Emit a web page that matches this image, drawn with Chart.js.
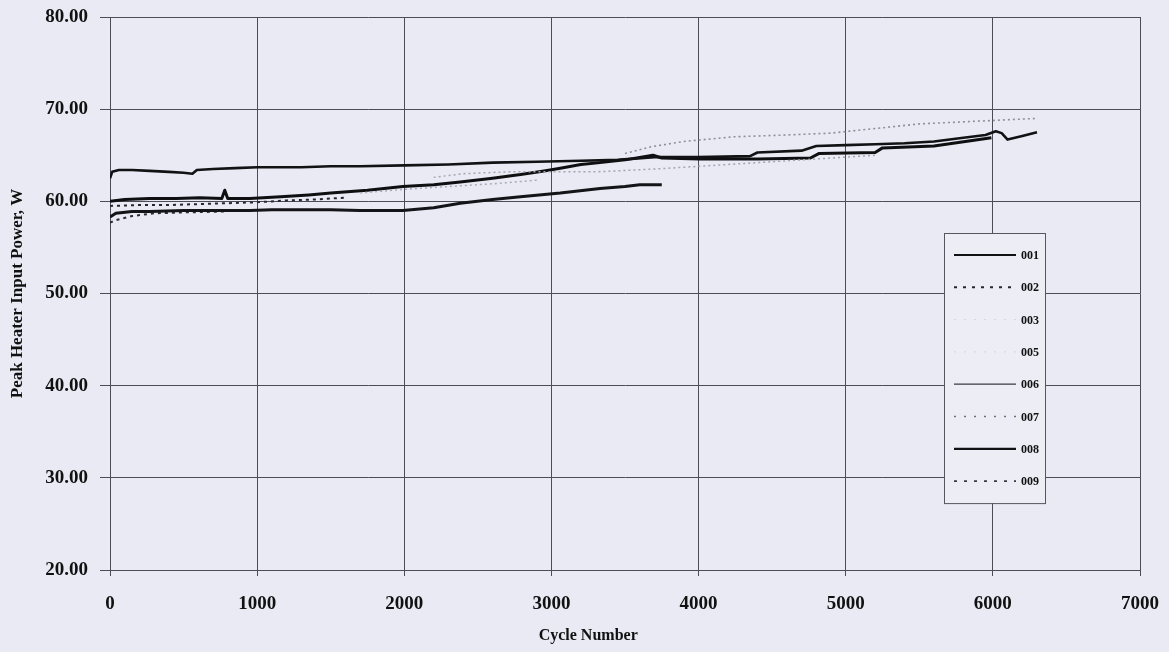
<!DOCTYPE html>
<html>
<head>
<meta charset="utf-8">
<title>Peak Heater Input Power vs Cycle Number</title>
<script src="https://cdn.jsdelivr.net/npm/chart.js@4.4.1/dist/chart.umd.min.js"></script>
<style>
  html, body { margin: 0; padding: 0; background: #e9eaf3; }
  #wrap { width: 1169px; height: 652px; }
</style>
</head>
<body>
<div id="wrap"><canvas id="powerChart" width="1169" height="652"></canvas></div>
<script>
// Axis ticks
const xTicks = [0, 1000, 2000, 3000, 4000, 5000, 6000, 7000];
const yTicks = [20, 30, 40, 50, 60, 70, 80];

// Heater series (cycle number / peak power in W)
const cycles001 = [0, 15, 60, 150, 270, 400, 500, 560, 590, 700, 850, 1000, 1150, 1300, 1500, 1700, 2000, 2300, 2600, 2900, 3200, 3450, 3700, 4000, 4350, 4400, 4700, 4800, 5000, 5200, 5400, 5600, 5800, 5950, 6020, 6060, 6100, 6200, 6300];
const power001  = [62.5, 63.2, 63.4, 63.4, 63.3, 63.2, 63.1, 63.0, 63.4, 63.5, 63.6, 63.7, 63.7, 63.7, 63.8, 63.8, 63.9, 64.0, 64.2, 64.3, 64.4, 64.5, 64.8, 64.8, 64.9, 65.3, 65.5, 66.0, 66.1, 66.2, 66.3, 66.5, 66.9, 67.2, 67.6, 67.4, 66.7, 67.1, 67.5];

const cycles002 = [0, 200, 400, 600, 800, 1000, 1200, 1400, 1600];
const power002  = [59.5, 59.6, 59.6, 59.7, 59.8, 59.9, 60.1, 60.2, 60.4];

const cycles003 = [1700, 2000, 2300, 2600, 2900];
const power003  = [60.9, 61.3, 61.6, 61.9, 62.3];

const cycles005 = [2200, 2400, 2700, 3000, 3300, 3700, 4100, 4500, 4900, 5200];
const power005  = [62.6, 63.0, 63.2, 63.2, 63.2, 63.5, 63.9, 64.3, 64.7, 65.0];

const cycles006 = [0, 40, 150, 270, 500, 700, 950, 1100, 1290, 1500, 1700, 1990, 2200, 2380, 2600, 2790, 3060, 3330, 3500, 3600, 3750];
const power006  = [58.3, 58.7, 58.9, 58.9, 59.0, 59.0, 59.0, 59.1, 59.1, 59.1, 59.0, 59.0, 59.3, 59.8, 60.2, 60.5, 60.9, 61.4, 61.6, 61.8, 61.8];

const cycles007 = [3500, 3670, 3900, 4240, 4600, 4900, 5200, 5500, 5900, 6300];
const power007  = [65.2, 65.9, 66.5, 67.0, 67.2, 67.4, 67.9, 68.4, 68.7, 69.0];

const cycles008 = [0, 100, 270, 450, 610, 760, 780, 800, 950, 1160, 1350, 1500, 1750, 1990, 2200, 2380, 2600, 2790, 2950, 3060, 3200, 3330, 3500, 3690, 3750, 4010, 4400, 4760, 4820, 5200, 5250, 5600, 5990];
const power008  = [60.0, 60.2, 60.3, 60.3, 60.4, 60.3, 61.2, 60.3, 60.3, 60.5, 60.7, 60.9, 61.2, 61.6, 61.8, 62.1, 62.5, 62.9, 63.3, 63.6, 64.0, 64.2, 64.5, 65.0, 64.7, 64.6, 64.6, 64.7, 65.2, 65.3, 65.8, 66.0, 66.9];

const cycles009 = [0, 50, 150, 300, 500, 800];
const power009  = [57.7, 58.0, 58.4, 58.7, 58.8, 58.9];

function pairs(xs, ys) {
    return xs.map((x, i) => ({ x: x, y: ys[i] }));
}

function series(label, xs, ys, color, width, dash) {
    return {
        label: label,
        data: pairs(xs, ys),
        showLine: true,
        borderColor: color,
        borderWidth: width,
        borderDash: dash,
        pointRadius: 0,
        tension: 0,
        borderJoinStyle: 'round'
    };
}

const datasets = [
    series('001', cycles001, power001, '#121214', 2.6, []),
    series('002', cycles002, power002, '#26262c', 2, [3, 4]),
    series('003', cycles003, power003, '#a9abb6', 1.5, [2, 3]),
    series('005', cycles005, power005, '#a2a4b0', 1.5, [2, 3]),
    series('006', cycles006, power006, '#141418', 3, []),
    series('007', cycles007, power007, '#8d8f9a', 1.6, [2, 3]),
    series('008', cycles008, power008, '#0f0f12', 3, []),
    series('009', cycles009, power009, '#2c2c33', 2, [3, 4])
];

// legend swatch styles (the faint ones print very light)
const legendColors = ['#121214', '#26262c', '#d3d5de', '#d3d5de', '#3a3a40', '#6e7079', '#121214', '#3a3a42'];
const legendWidths = [2, 2, 1, 1, 1.2, 1.5, 2.2, 1.8];
const legendDashes = [[], [3, 6], [2, 8], [2, 8], [], [2, 8], [], [3, 7]];

const serif = '"Liberation Serif", "Times New Roman", serif';

const pageBackground = {
    id: 'pageBackground',
    beforeDraw(chart) {
        const ctx = chart.ctx;
        ctx.save();
        ctx.fillStyle = '#e9eaf3';
        ctx.fillRect(0, 0, chart.width, chart.height);
        ctx.restore();
    }
};

// x axis caption, set a bit left of centre
const xCaption = {
    id: 'xCaption',
    afterDraw(chart) {
        const ctx = chart.ctx;
        ctx.save();
        ctx.font = 'bold 16px ' + serif;
        ctx.fillStyle = '#111';
        ctx.textAlign = 'center';
        ctx.textBaseline = 'middle';
        ctx.fillText('Cycle Number', chart.scales.x.getPixelForValue(3250), chart.height - 16);
        ctx.restore();
    }
};

// boxed legend inside the plot, one row per dataset
const boxLegend = {
    id: 'boxLegend',
    afterDraw(chart) {
        const ctx = chart.ctx;
        const area = chart.chartArea;
        const right = area.right - 95;
        const left = right - 101;
        const top = area.top + 216;
        const rowH = 32.3;
        const bottom = top + 22 * 2 + rowH * (chart.data.datasets.length - 1);

        ctx.save();
        ctx.fillStyle = '#ecedf5';
        ctx.fillRect(left, top, right - left, bottom - top);
        ctx.strokeStyle = '#55565f';
        ctx.lineWidth = 1;
        ctx.strokeRect(left + 0.5, top + 0.5, right - left, bottom - top);

        ctx.font = 'bold 12px ' + serif;
        ctx.textBaseline = 'middle';
        chart.data.datasets.forEach((ds, i) => {
            const y = top + 22 + i * rowH;
            ctx.beginPath();
            ctx.strokeStyle = legendColors[i];
            ctx.lineWidth = legendWidths[i];
            ctx.setLineDash(legendDashes[i]);
            ctx.moveTo(left + 10, y);
            ctx.lineTo(left + 72, y);
            ctx.stroke();
            ctx.setLineDash([]);
            ctx.fillStyle = '#111';
            ctx.fillText(ds.label, left + 77, y + 1);
        });
        ctx.restore();
    }
};

const gridColor = '#4b4c56';

const config = {
    type: 'scatter',
    data: { datasets: datasets },
    options: {
        responsive: false,
        animation: false,
        layout: { padding: { top: 17, right: 29, bottom: 0, left: 0 } },
        plugins: {
            legend: { display: false },
            tooltip: { enabled: false }
        },
        scales: {
            x: {
                type: 'linear',
                min: 0,
                max: 7000,
                afterBuildTicks: scale => { scale.ticks = xTicks.map(v => ({ value: v })); },
                afterFit: scale => {
                    scale.height = 82;
                    scale.paddingLeft = 0;
                    scale.paddingRight = 0;
                },
                grid: { color: gridColor, lineWidth: 1, tickLength: 6 },
                border: { color: gridColor, width: 1 },
                ticks: {
                    color: '#111',
                    padding: 17,
                    maxRotation: 0,
                    font: { family: serif, size: 19, weight: 'bold' },
                    callback: v => String(v)
                }
            },
            y: {
                min: 20,
                max: 80,
                afterBuildTicks: scale => { scale.ticks = yTicks.map(v => ({ value: v })); },
                afterFit: scale => {
                    scale.width = 110;
                    scale.paddingTop = 0;
                    scale.paddingBottom = 0;
                },
                grid: { color: gridColor, lineWidth: 1, tickLength: 10 },
                border: { color: gridColor, width: 1 },
                title: {
                    display: true,
                    text: 'Peak Heater Input Power, W',
                    color: '#111',
                    padding: { top: 7, bottom: 0 },
                    font: { family: serif, size: 17, weight: 'bold' }
                },
                ticks: {
                    color: '#111',
                    padding: 12,
                    font: { family: serif, size: 19, weight: 'bold' },
                    callback: v => Number(v).toFixed(2)
                }
            }
        }
    },
    plugins: [pageBackground, xCaption, boxLegend]
};

const powerChart = new Chart(document.getElementById('powerChart'), config);
</script>
</body>
</html>
